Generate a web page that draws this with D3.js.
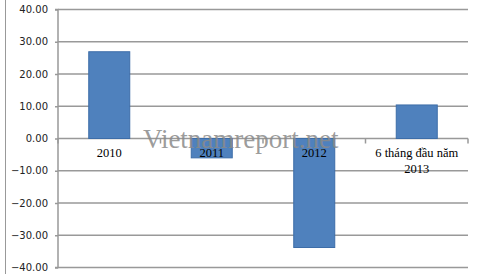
<!DOCTYPE html>
<html><head><meta charset="utf-8">
<script src="https://cdn.jsdelivr.net/npm/d3@7"></script>
<style>body{margin:0;background:#fff}svg{display:block}</style>
</head><body>
<script>
const categories = ["2010", "2011", "2012", "6 tháng đầu năm\n2013"];
const values = [26.9, -6.0, -33.8, 10.4];
const yTicks = [40, 30, 20, 10, 0, -10, -20, -30, -40];
const watermark = "Vietnamreport.net";

(function () {
const W = 480, H = 274;
const svg = d3.select("body").append("svg").attr("width", W).attr("height", H);

const pL = 58, pR = 468, pT = 9.5, pB = 267.5;
const x = d3.scaleBand().domain(categories).range([pL, pR]).paddingInner(0.6).paddingOuter(0.3);
const y = d3.scaleLinear().domain([-40, 40]).range([pB, pT]);

// outer border at left
svg.append("line").attr("x1", 5.5).attr("x2", 5.5).attr("y1", 0).attr("y2", H)
  .attr("stroke", "#999").attr("stroke-width", 1);

// gridlines
svg.append("g").selectAll("line").data(yTicks).join("line")
  .attr("x1", pL).attr("x2", pR)
  .attr("y1", d => y(d)).attr("y2", d => y(d))
  .attr("stroke", "#999").attr("stroke-width", 1.5);

// y axis
const yAxis = d3.axisLeft(y).tickValues(yTicks).tickSize(3).tickFormat(d3.format(".2f"));
const gy = svg.append("g").attr("transform", `translate(${pL},0)`).call(yAxis);
gy.select(".domain").attr("stroke", "#999").attr("stroke-width", 1.5).attr("d", `M-3,${y(40)}H0V${y(-40)}H-3`);
gy.selectAll(".tick line").attr("stroke", "#999").attr("stroke-width", 1.5);
gy.selectAll(".tick text").attr("font-family", "DejaVu Sans, Verdana, sans-serif")
  .attr("font-size", 10).attr("fill", "#222").attr("x", -10);

// bars
const bw = x.bandwidth();
svg.append("g").selectAll("rect").data(values).join("rect")
  .attr("x", (d, i) => x(categories[i]))
  .attr("width", bw)
  .attr("y", d => y(Math.max(0, d)))
  .attr("height", d => Math.abs(y(d) - y(0)))
  .attr("fill", "#4f81bd").attr("stroke", "#3d6da8").attr("stroke-width", 1);

// zero axis ticks at category boundaries
const bounds = categories.map((c, i) => pL + i * (pR - pL) / categories.length).concat([pR]);
svg.append("g").selectAll("line").data(bounds).join("line")
  .attr("x1", d => d).attr("x2", d => d)
  .attr("y1", y(0)).attr("y2", y(0) + 5)
  .attr("stroke", "#999").attr("stroke-width", 1.5);

// watermark
svg.append("text").attr("x", 143).attr("y", 148)
  .attr("font-family", "Liberation Serif, Times New Roman, serif")
  .attr("font-size", 27).attr("fill", "#8a8a8a").attr("fill-opacity", 0.85)
  .text(watermark);

// category labels
const lab = svg.append("g").selectAll("text").data(categories).join("text")
  .attr("x", d => x(d) + bw / 2)
  .attr("y", y(0) + 18)
  .attr("text-anchor", "middle")
  .attr("font-family", "Liberation Serif, Times New Roman, serif")
  .attr("font-size", 12.5).attr("fill", "#000");
lab.each(function(d) {
  const parts = d.split("\n");
  const t = d3.select(this);
  parts.forEach((p, i) => t.append("tspan").attr("x", x(d) + bw / 2).attr("dy", i ? 16 : 0).text(p));
});
})();
</script>
</body></html>
